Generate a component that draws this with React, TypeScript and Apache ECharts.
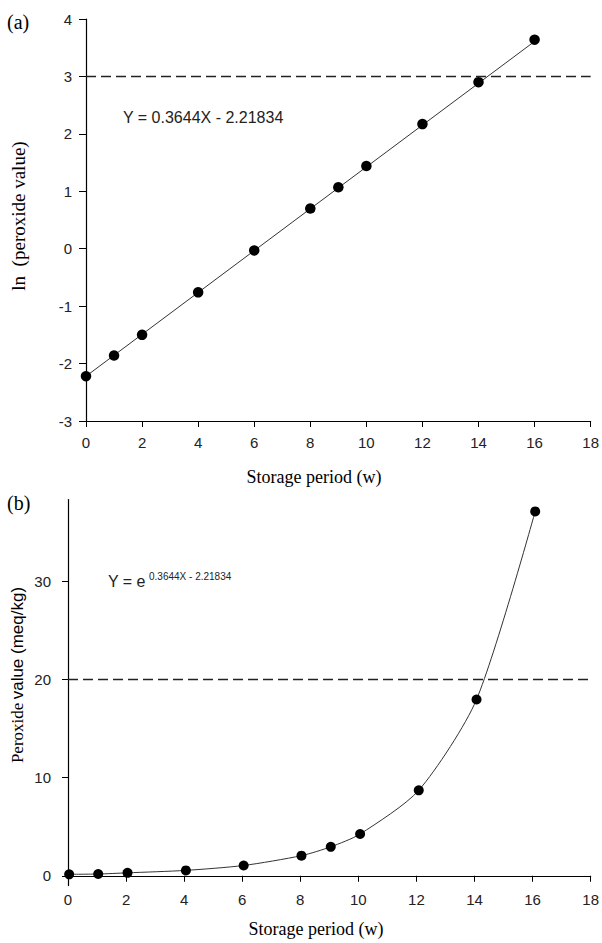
import React, { useEffect, useRef } from "react";
import * as echarts from "echarts";

// (a) ln(peroxide value) vs storage period
const weeksA = [0, 1, 2, 4, 6, 8, 9, 10, 12, 14, 16];
const lnPV = [-2.22, -1.86, -1.5, -0.76, -0.03, 0.7, 1.07, 1.44, 2.17, 2.9, 3.64];
const fitA = [
  [0, -2.22],
  [16, 3.61],
];
const limitA = 3;

// (b) peroxide value vs storage period
const weeksB = [0.04, 1.04, 2.05, 4.06, 6.05, 8.04, 9.05, 10.06, 12.08, 14.07, 16.09];
const pv = [0.15, 0.18, 0.3, 0.55, 1.05, 2.05, 2.95, 4.25, 8.7, 17.95, 37.1];
const limitB = 20;

const yTicksB = [0, 10, 20, 30];

const SANS = '"Liberation Sans", Arial, sans-serif';
const SERIF = '"Liberation Serif", "Times New Roman", serif';

export default function App() {
  const ref = useRef<HTMLDivElement>(null);
  useEffect(() => {
    if (!ref.current) return;
    const chart = echarts.init(ref.current, null, { renderer: "svg" });
    const axisLine = { show: true, lineStyle: { color: "#000", width: 1.2 } };
    const label = { color: "#222", fontFamily: SANS, fontSize: 15 };
    const dash = { color: "#222", width: 1.4, type: [10, 5] as any, opacity: 1 };
    chart.setOption({
      animation: false,
      backgroundColor: "#fff",
      grid: [
        { left: 86, top: 19, width: 507, height: 402 },
        { left: 68, top: 499.6, width: 525, height: 386 },
      ],
      xAxis: [
        {
          gridIndex: 0,
          type: "value",
          min: 0,
          max: 18,
          interval: 2,
          axisLine: { ...axisLine, onZero: false },
          axisTick: { show: true, length: 6, lineStyle: { color: "#000" } },
          axisLabel: { ...label, margin: 14 },
          splitLine: { show: false },
        },
        {
          gridIndex: 1,
          type: "value",
          min: 0,
          max: 18,
          interval: 2,
          axisLine: { ...axisLine, onZero: true },
          axisTick: { show: true, length: 6, lineStyle: { color: "#000" } },
          axisLabel: { ...label, margin: 6 },
          splitLine: { show: false },
        },
      ],
      yAxis: [
        {
          gridIndex: 0,
          type: "value",
          min: -3,
          max: 4,
          interval: 1,
          axisLine: axisLine,
          axisTick: { show: true, length: 7, lineStyle: { color: "#000" } },
          axisLabel: { ...label, margin: 14 },
          splitLine: { show: false },
        },
        {
          gridIndex: 1,
          type: "value",
          min: -1,
          max: 38.3,
          axisLine: axisLine,
          axisTick: {
            show: true,
            length: 6,
            lineStyle: { color: "#000" },
            customValues: yTicksB,
          },
          axisLabel: { ...label, margin: 17, customValues: yTicksB },
          splitLine: { show: false },
        },
      ],
      series: [
        {
          type: "line",
          xAxisIndex: 0,
          yAxisIndex: 0,
          data: fitA,
          showSymbol: false,
          symbol: "none",
          lineStyle: { color: "#333", width: 1 },
          markLine: {
            silent: true,
            symbol: "none",
            label: { show: false },
            lineStyle: dash,
            data: [{ yAxis: limitA }],
          },
          z: 2,
        },
        {
          type: "scatter",
          xAxisIndex: 0,
          yAxisIndex: 0,
          data: weeksA.map((w, i) => [w, lnPV[i]]),
          symbol: "circle",
          symbolSize: 10.5,
          itemStyle: { color: "#000", opacity: 1 },
          z: 3,
        },
        {
          type: "line",
          xAxisIndex: 1,
          yAxisIndex: 1,
          data: weeksB.map((w, i) => [w, pv[i]]),
          smooth: 0.25,
          symbol: "circle",
          symbolSize: 10,
          showSymbol: true,
          itemStyle: { color: "#000", opacity: 1 },
          lineStyle: { color: "#333", width: 1 },
          markLine: {
            silent: true,
            symbol: "none",
            label: { show: false },
            lineStyle: dash,
            data: [{ yAxis: limitB }],
          },
          z: 3,
        },
      ],
      graphic: [
        {
          type: "text",
          x: 7,
          y: 22,
          style: { text: "(a)", fontFamily: SERIF, fontSize: 20, fill: "#000", align: "left", verticalAlign: "middle" },
        },
        {
          type: "text",
          x: 7,
          y: 503,
          style: { text: "(b)", fontFamily: SERIF, fontSize: 20, fill: "#000", align: "left", verticalAlign: "middle" },
        },
        {
          type: "text",
          x: 123,
          y: 117,
          style: {
            text: "Y = 0.3644X - 2.21834",
            fontFamily: SANS,
            fontSize: 16,
            fill: "#222",
            align: "left",
            verticalAlign: "middle",
          },
        },
        {
          type: "text",
          x: 108,
          y: 581,
          style: { text: "Y = e", fontFamily: SANS, fontSize: 16, fill: "#222", align: "left", verticalAlign: "middle" },
        },
        {
          type: "text",
          x: 149,
          y: 576,
          style: {
            text: "0.3644X - 2.21834",
            fontFamily: SANS,
            fontSize: 10,
            fill: "#222",
            align: "left",
            verticalAlign: "middle",
          },
        },
        {
          type: "text",
          x: 18,
          y: 216,
          rotation: Math.PI / 2,
          style: {
            text: "ln  (peroxide value)",
            fontFamily: SERIF,
            fontSize: 19,
            fill: "#000",
            align: "center",
            verticalAlign: "middle",
          },
        },
        {
          type: "text",
          x: 17,
          y: 675,
          rotation: Math.PI / 2,
          style: {
            text: "{a|Peroxide} {b|value (meq/kg)}",
            rich: {
              a: { fontFamily: SERIF, fontSize: 17, fill: "#000" },
              b: { fontFamily: SANS, fontSize: 17, fill: "#000" },
            },
            align: "center",
            verticalAlign: "middle",
          },
        },
        {
          type: "text",
          x: 314,
          y: 477,
          style: {
            text: "Storage period (w)",
            fontFamily: SERIF,
            fontSize: 18,
            fill: "#000",
            align: "center",
            verticalAlign: "middle",
          },
        },
        {
          type: "text",
          x: 316,
          y: 929,
          style: {
            text: "Storage period (w)",
            fontFamily: SERIF,
            fontSize: 18,
            fill: "#000",
            align: "center",
            verticalAlign: "middle",
          },
        },
      ],
    });
    return () => chart.dispose();
  }, []);
  return (
    <div
      ref={ref}
      style={{ position: "fixed", left: 0, top: 0, width: 602, height: 943, background: "#fff" }}
    />
  );
}
